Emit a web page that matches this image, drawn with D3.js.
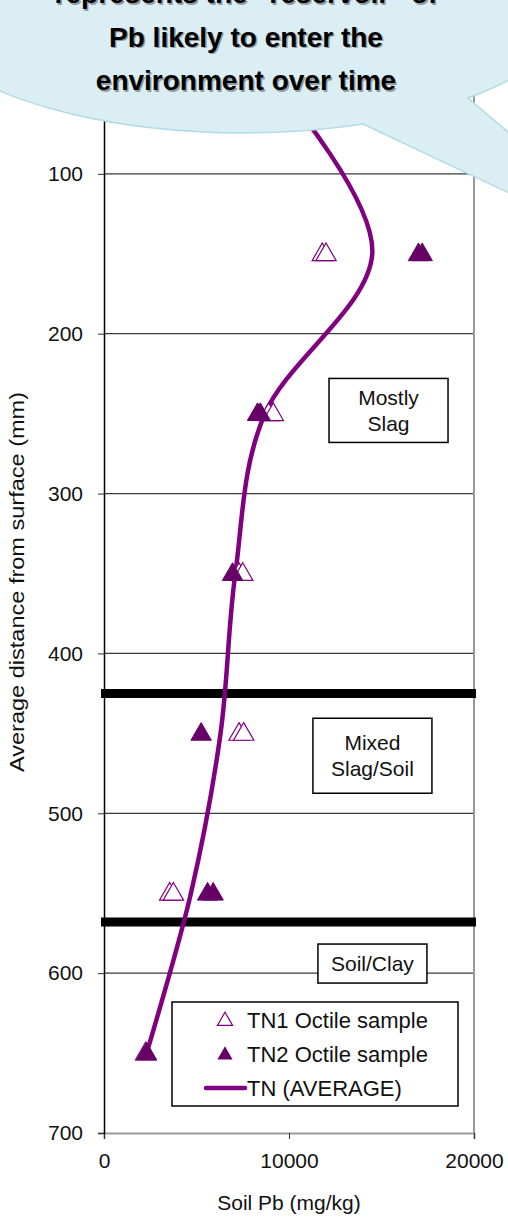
<!DOCTYPE html>
<html>
<head>
<meta charset="utf-8">
<script src="https://cdn.jsdelivr.net/npm/d3@7"></script>
<style>
  html, body { margin: 0; padding: 0; background: #fff; }
  svg { display: block; font-family: "Liberation Sans", Arial, sans-serif; }
</style>
</head>
<body>
<svg id="chart" width="508" height="1217"></svg>
<script>
// values
var tn1Depth = [150, 150, 250, 250, 350, 350, 450, 450, 550, 550, 650];
var tn1Pb = [11800, 12000, 8900, 9150, 7300, 7500, 7300, 7550, 3550, 3750, 2250];
var tn2Depth = [150, 150, 250, 250, 350, 450, 550, 550, 650];
var tn2Pb = [17000, 17200, 8300, 8450, 6950, 5250, 5600, 5900, 2300];
var avgDepth = [50, 150, 250, 350, 450, 550, 650];
var avgPb = [9800, 14500, 8700, 7100, 6300, 4700, 2300];
var boundaryDepths = [425, 568];
var depthTicks = [100, 200, 300, 400, 500, 600, 700];
var pbTicks = [0, 10000, 20000];
var zoneLabels = [["Mostly", "Slag"], ["Mixed", "Slag/Soil"], ["Soil/Clay"]];
var legendLabels = ["TN1 Octile sample", "TN2 Octile sample", "TN (AVERAGE)"];
var calloutLines = ["represents the \u201creservoir\u201d of", "Pb likely to enter the", "environment over time"];

var svg = d3.select("#chart");

var x = d3.scaleLinear().domain([0, 20000]).range([104, 474]);
var y = d3.scaleLinear().domain([0, 700]).range([14, 1133]);

var purple = "#800080", darkPurple = "#660066";

// gridlines
svg.append("g").selectAll("line")
    .data(depthTicks.slice(0, -1))
    .enter().append("line")
    .attr("x1", x(0)).attr("x2", x(20000))
    .attr("y1", function(d) { return y(d); })
    .attr("y2", function(d) { return y(d); })
    .attr("stroke", "#3a3a3a").attr("stroke-width", 1.2);

// right border
svg.append("line")
    .attr("x1", x(20000)).attr("x2", x(20000))
    .attr("y1", y(0)).attr("y2", y(700))
    .attr("stroke", "#999").attr("stroke-width", 2);

// bottom axis
var xAxis = svg.append("g")
    .attr("transform", "translate(0," + y(700) + ")")
    .call(d3.axisBottom(x).tickValues(pbTicks).tickSize(6).tickFormat(d3.format("d")));
xAxis.select(".domain").attr("stroke", "#999").attr("stroke-width", 2);
xAxis.selectAll(".tick line").attr("stroke", "#333");
xAxis.selectAll("text")
    .attr("y", 35).attr("dy", 0)
    .attr("font-size", 21).attr("font-family", "Liberation Sans, Arial").attr("fill", "#111");

// left axis
var yAxis = svg.append("g")
    .attr("transform", "translate(" + x(0) + ",0)")
    .call(d3.axisLeft(y).tickValues(depthTicks).tickSize(6).tickPadding(15));
yAxis.select(".domain").attr("stroke", "#000").attr("stroke-width", 1.5);
yAxis.selectAll(".tick line").attr("stroke", "#333");
yAxis.selectAll("text")
    .attr("font-size", 21).attr("font-family", "Liberation Sans, Arial").attr("fill", "#111");

// axis titles
svg.append("text")
    .attr("x", x(10000)).attr("y", 1210)
    .attr("text-anchor", "middle").attr("font-size", 21).attr("fill", "#111")
    .text("Soil Pb (mg/kg)");
svg.append("text")
    .attr("transform", "translate(24,582) rotate(-90)")
    .attr("text-anchor", "middle").attr("font-size", 21).attr("fill", "#111")
    .attr("textLength", 380).attr("lengthAdjust", "spacingAndGlyphs")
    .text("Average distance from surface (mm)");

// thick boundary lines
svg.append("g").selectAll("line")
    .data(boundaryDepths)
    .enter().append("line")
    .attr("x1", x(0) - 3).attr("x2", x(20000) + 2)
    .attr("y1", function(d) { return y(d); })
    .attr("y2", function(d) { return y(d); })
    .attr("stroke", "#000").attr("stroke-width", 9);

// zone label boxes
var zoneBoxes = [
    { cx: 15380, cy: 248, w: 119, h: 64 },
    { cx: 14510, cy: 464, w: 119, h: 75 },
    { cx: 14510, cy: 594, w: 109, h: 39 }
];
zoneLabels.forEach(function(lines, i) {
    var b = zoneBoxes[i], cx = x(b.cx), cy = y(b.cy);
    var g = svg.append("g");
    g.append("rect")
        .attr("x", cx - b.w / 2).attr("y", cy - b.h / 2)
        .attr("width", b.w).attr("height", b.h)
        .attr("fill", "#fff").attr("stroke", "#000").attr("stroke-width", 1.5);
    lines.forEach(function(t, j) {
        g.append("text")
            .attr("x", cx).attr("y", cy + (j - (lines.length - 1) / 2) * 26 + 7.5)
            .attr("text-anchor", "middle").attr("font-size", 21).attr("fill", "#111")
            .text(t);
    });
});

// average line, smoothed like the spreadsheet does
var line = d3.line()
    .x(function(d) { return x(d[0]); })
    .y(function(d) { return y(d[1]); })
    .curve(d3.curveCatmullRom.alpha(0));
svg.append("path")
    .datum(avgPb.map(function(v, i) { return [v, avgDepth[i]]; }))
    .attr("d", line)
    .attr("fill", "none").attr("stroke", purple).attr("stroke-width", 4.5);

var tri = d3.symbol().type(d3.symbolTriangle).size(180);

// TN1 open triangles
svg.append("g").selectAll("path")
    .data(tn1Pb.map(function(v, i) { return [v, tn1Depth[i]]; }))
    .enter().append("path")
    .attr("d", tri)
    .attr("transform", function(d) { return "translate(" + x(d[0]) + "," + (y(d[1]) + 1) + ")"; })
    .attr("fill", "#fff").attr("stroke", purple).attr("stroke-width", 1.2);

// TN2 filled triangles
svg.append("g").selectAll("path")
    .data(tn2Pb.map(function(v, i) { return [v, tn2Depth[i]]; }))
    .enter().append("path")
    .attr("d", tri)
    .attr("transform", function(d) { return "translate(" + x(d[0]) + "," + (y(d[1]) + 1) + ")"; })
    .attr("fill", darkPurple).attr("stroke", darkPurple).attr("stroke-width", 1);

// legend
var legend = svg.append("g");
legend.append("rect")
    .attr("x", 172).attr("y", 1002).attr("width", 286).attr("height", 104)
    .attr("fill", "#fff").attr("stroke", "#000").attr("stroke-width", 1.5);
var smallTri = d3.symbol().type(d3.symbolTriangle).size(100);
legend.append("path").attr("d", smallTri)
    .attr("transform", "translate(225,1021)")
    .attr("fill", "#fff").attr("stroke", purple).attr("stroke-width", 1.2);
legend.append("path").attr("d", smallTri)
    .attr("transform", "translate(225,1055)")
    .attr("fill", darkPurple);
legend.append("line")
    .attr("x1", 206).attr("x2", 245).attr("y1", 1088).attr("y2", 1088)
    .attr("stroke", purple).attr("stroke-width", 4.5).attr("stroke-linecap", "round");
legendLabels.forEach(function(t, i) {
    legend.append("text")
        .attr("x", 247).attr("y", 1028 + i * 34)
        .attr("font-size", 22).attr("fill", "#111")
        .text(t);
});

// callout bubble on top
svg.append("path")
    .attr("d", "M468,98 A330,130 0 1 0 363,124 L668,268 Z")
    .attr("fill", "#daeef3").attr("stroke", "#b2dbe4").attr("stroke-width", 1.5);
calloutLines.forEach(function(t, i) {
    svg.append("text")
        .attr("x", 247.5).attr("y", 4.5 + i * 43.5)
        .attr("text-anchor", "middle")
        .attr("font-size", 28).attr("font-weight", "bold").attr("fill", "#666").attr("opacity", 0.6)
        .text(t);
    svg.append("text")
        .attr("x", 246).attr("y", 3 + i * 43.5)
        .attr("text-anchor", "middle")
        .attr("font-size", 28).attr("font-weight", "bold").attr("fill", "#000")
        .text(t);
});
</script>
</body>
</html>
